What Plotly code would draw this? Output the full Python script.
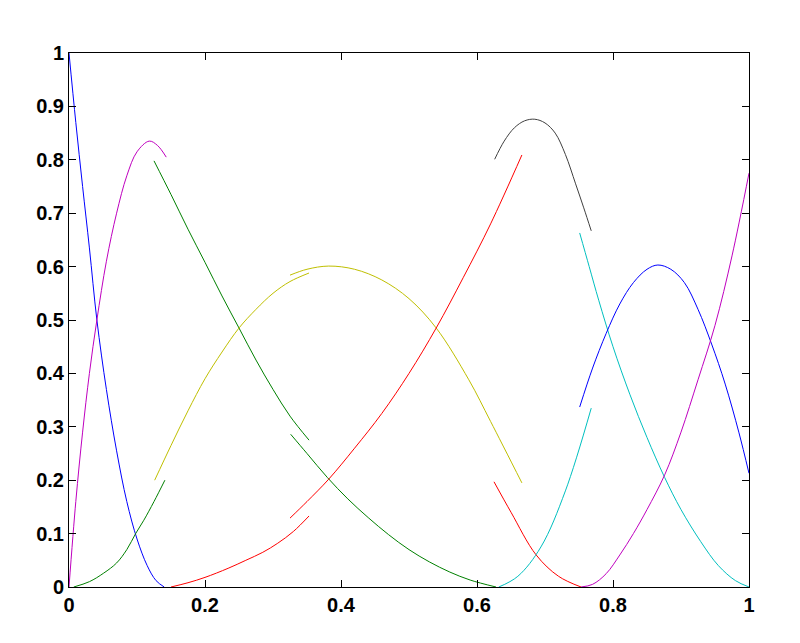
import plotly.graph_objects as go

# each curve piece: x values, y values
blue1_x = [0, 0.01, 0.02, 0.03, 0.041, 0.055, 0.07, 0.085, 0.1, 0.115, 0.128, 0.14]
blue1_y = [1, 0.87, 0.75, 0.635, 0.5, 0.37, 0.255, 0.16, 0.09, 0.04, 0.012, 0]

mag1_x = [0, 0.01, 0.02, 0.03, 0.041, 0.055, 0.07, 0.085, 0.1, 0.118, 0.13, 0.143]
mag1_y = [0, 0.16, 0.29, 0.4, 0.5, 0.61, 0.7, 0.77, 0.815, 0.835, 0.827, 0.805]

green1_x = [0.007, 0.03, 0.051, 0.07, 0.085, 0.098, 0.11, 0.125, 0.141]
green1_y = [0, 0.01, 0.026, 0.045, 0.07, 0.1, 0.125, 0.16, 0.2]

green2_x = [0.125, 0.15, 0.175, 0.2, 0.225, 0.25, 0.275, 0.3, 0.325, 0.353]
green2_y = [0.798, 0.735, 0.67, 0.608, 0.545, 0.485, 0.425, 0.37, 0.32, 0.275]

green3_x = [0.326, 0.35, 0.38, 0.41, 0.44, 0.47, 0.5, 0.53, 0.56, 0.59, 0.628]
green3_y = [0.286, 0.25, 0.205, 0.165, 0.13, 0.098, 0.07, 0.047, 0.028, 0.013, 0]

yel1_x = [0.126, 0.15, 0.175, 0.2, 0.225, 0.25, 0.275, 0.3, 0.325, 0.353]
yel1_y = [0.2, 0.265, 0.33, 0.39, 0.44, 0.485, 0.52, 0.55, 0.572, 0.588]

yel2_x = [0.325, 0.35, 0.382, 0.42, 0.46, 0.5, 0.54, 0.588, 0.62, 0.666]
yel2_y = [0.584, 0.595, 0.601, 0.595, 0.575, 0.54, 0.485, 0.388, 0.31, 0.195]

red1_x = [0.15, 0.175, 0.2, 0.234, 0.26, 0.285, 0.307, 0.33, 0.353]
red1_y = [0, 0.008, 0.018, 0.035, 0.05, 0.065, 0.082, 0.104, 0.133]

red2_x = [0.325, 0.35, 0.382, 0.42, 0.46, 0.5, 0.54, 0.58, 0.62, 0.666]
red2_y = [0.129, 0.16, 0.202, 0.26, 0.325, 0.4, 0.485, 0.58, 0.68, 0.809]

red3_x = [0.625, 0.65, 0.687, 0.72, 0.753]
red3_y = [0.197, 0.14, 0.06, 0.02, 0]

cyan1_x = [0.632, 0.66, 0.694, 0.73, 0.768]
cyan1_y = [0, 0.02, 0.075, 0.18, 0.335]

gray_x = [0.626, 0.64, 0.655, 0.67, 0.685, 0.7, 0.715, 0.73, 0.745, 0.757, 0.768]
gray_y = [0.801, 0.835, 0.86, 0.873, 0.876, 0.869, 0.85, 0.81, 0.755, 0.71, 0.667]

cyan2_x = [0.751, 0.765, 0.779, 0.8, 0.825, 0.85, 0.876, 0.9, 0.929, 0.955, 0.98, 1]
cyan2_y = [0.663, 0.6, 0.537, 0.45, 0.36, 0.28, 0.205, 0.145, 0.085, 0.04, 0.012, 0]

blue2_x = [0.751, 0.77, 0.79, 0.81, 0.83, 0.85, 0.866, 0.885, 0.905, 0.925, 0.945, 0.965, 0.985, 1]
blue2_y = [0.337, 0.41, 0.475, 0.53, 0.57, 0.595, 0.603, 0.595, 0.57, 0.52, 0.455, 0.38, 0.29, 0.213]

mag2_x = [0.753, 0.77, 0.79, 0.81, 0.83, 0.85, 0.876, 0.9, 0.925, 0.95, 0.975, 1]
mag2_y = [0, 0.005, 0.025, 0.06, 0.1, 0.145, 0.21, 0.29, 0.388, 0.49, 0.62, 0.775]

xtick_vals = [0, 0.2, 0.4, 0.6, 0.8, 1]
xtick_text = ["0", "0.2", "0.4", "0.6", "0.8", "1"]
ytick_vals = [0, 0.1, 0.2, 0.3, 0.4, 0.5, 0.6, 0.7, 0.8, 0.9, 1]
ytick_text = ["0", "0.1", "0.2", "0.3", "0.4", "0.5", "0.6", "0.7", "0.8", "0.9", "1"]

# old matlab colour order
pieces = [
    (blue1_x, blue1_y, "#0000FF"),
    (mag1_x, mag1_y, "#BF00BF"),
    (green1_x, green1_y, "#008000"),
    (green2_x, green2_y, "#008000"),
    (green3_x, green3_y, "#008000"),
    (yel1_x, yel1_y, "#BFBF00"),
    (yel2_x, yel2_y, "#BFBF00"),
    (red1_x, red1_y, "#FF0000"),
    (red2_x, red2_y, "#FF0000"),
    (red3_x, red3_y, "#FF0000"),
    (cyan1_x, cyan1_y, "#00BFBF"),
    (gray_x, gray_y, "#404040"),
    (cyan2_x, cyan2_y, "#00BFBF"),
    (blue2_x, blue2_y, "#0000FF"),
    (mag2_x, mag2_y, "#BF00BF"),
]

fig = go.Figure()
for xs, ys, col in pieces:
    fig.add_trace(go.Scatter(x=xs, y=ys, mode="lines",
                             line=dict(color=col, width=1, shape="spline", smoothing=1),
                             showlegend=False, hoverinfo="skip"))

axis_style = dict(
    showgrid=False, zeroline=False, showline=True, linecolor="black", linewidth=1,
    mirror="ticks", ticks="inside", ticklen=7, tickcolor="black",
    tickfont=dict(family="Liberation Sans, Arial", size=20, color="black", weight="bold"),
)

# page body has an 8px margin, so the figure is a bit smaller than the window
fig.update_layout(
    width=792, height=635,
    margin=dict(l=61, r=51, t=45, b=56),
    paper_bgcolor="white", plot_bgcolor="white",
    xaxis=dict(range=[0, 1], tickvals=xtick_vals, ticktext=xtick_text, **axis_style),
    yaxis=dict(range=[0, 1], tickvals=ytick_vals, ticktext=ytick_text, **axis_style),
)

fig.write_html("out.html")
